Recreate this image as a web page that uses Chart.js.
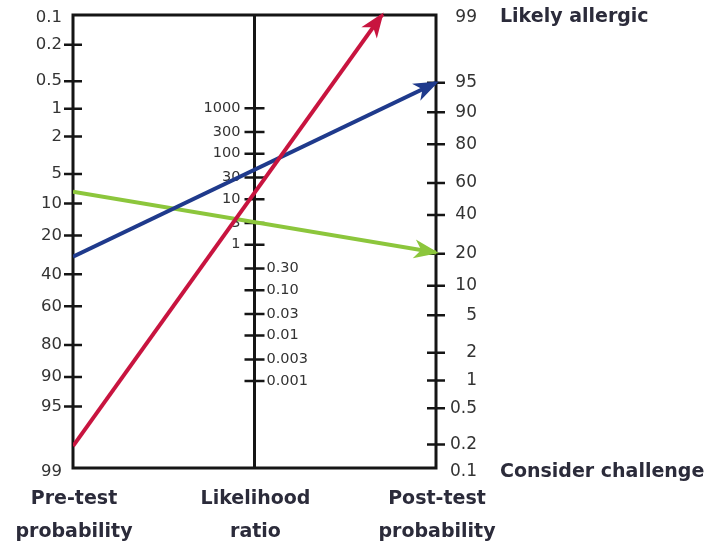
<!DOCTYPE html>
<html>
<head>
<meta charset="utf-8">
<script src="https://cdn.jsdelivr.net/npm/chart.js@4.4.1/dist/chart.umd.min.js"></script>
<style>
  body { margin: 0; background: #fff; }
  #wrap { width: 713px; height: 543px; }
</style>
</head>
<body>
<div id="wrap"><canvas id="nomogram"></canvas></div>
<script>
// printed ticks on the three axes
const preTicks = [0.2, 0.5, 1, 2, 5, 10, 20, 40, 60, 80, 90, 95];
const preEnds = [0.1, 99];
const postTicks = [95, 90, 80, 60, 40, 20, 10, 5, 2, 1, 0.5, 0.2];
const postEnds = [99, 0.1];
const lrHigh = [1000, 300, 100, 30, 10, 3, 1];
const lrLow = [0.3, 0.1, 0.03, 0.01, 0.003, 0.001];
const lrLowLabels = ['0.30', '0.10', '0.03', '0.01', '0.003', '0.001'];
const postNotes = ['Likely allergic', 'Consider challenge'];
const axisTitles = [['Pre-test', 'probability'], ['Likelihood', 'ratio'], ['Post-test', 'probability']];

// arrows: pre-test % they start from, post-test % they point at
const preTest = [98.1, 30, 7.6];
const postTest = [99.86, 95, 20.5];

// frame extent on the pre-test scale, offset of the post-test scale (log odds)
const preTop = 0.094, preBottom = 98.9;
const postShift = 2.31;

const logit = p => Math.log(p / (100 - p));
const preY = p => -logit(p);
const postY = p => logit(p) + postShift;
const lrY = r => 0.5 * Math.log(r) + postShift / 2;

const arrowColors = ['#c8143f', '#1f3a8c', '#8cc63c'];

const datasets = preTest.map((p, i) => ({
    data: [{x: 0, y: preY(p)}, {x: 1, y: postY(postTest[i])}],
    borderColor: arrowColors[i],
    borderWidth: 4,
    pointRadius: 0,
    clip: 0
}));

const nomogramAxes = {
    id: 'nomogramAxes',
    beforeDatasetsDraw(chart) {
        const {ctx, chartArea: a, scales: {x, y}} = chart;
        const xl = x.getPixelForValue(0), xm = x.getPixelForValue(0.5), xr = x.getPixelForValue(1);
        ctx.save();
        ctx.strokeStyle = '#151515';
        ctx.lineWidth = 3;
        ctx.strokeRect(a.left, a.top, a.right - a.left, a.bottom - a.top);
        ctx.beginPath();
        ctx.moveTo(xm, a.top);
        ctx.lineTo(xm, a.bottom);
        ctx.stroke();

        ctx.lineWidth = 2.5;
        ctx.beginPath();
        preTicks.forEach(v => { const py = y.getPixelForValue(preY(v)); ctx.moveTo(xl - 9, py); ctx.lineTo(xl + 9, py); });
        postTicks.forEach(v => { const py = y.getPixelForValue(postY(v)); ctx.moveTo(xr - 9, py); ctx.lineTo(xr + 9, py); });
        lrHigh.concat(lrLow).forEach(v => { const py = y.getPixelForValue(lrY(v)); ctx.moveTo(xm - 10, py); ctx.lineTo(xm + 10, py); });
        ctx.stroke();

        ctx.fillStyle = '#333';
        ctx.textBaseline = 'middle';
        ctx.textAlign = 'right';
        ctx.font = '16.5px "DejaVu Sans"';
        preTicks.concat(preEnds).forEach(v => ctx.fillText(String(v), xl - 11, y.getPixelForValue(preY(v))));
        ctx.font = '17px "DejaVu Sans"';
        postTicks.concat(postEnds).forEach(v => ctx.fillText(String(v), xr + 41, y.getPixelForValue(postY(v))));
        ctx.font = '14.5px "DejaVu Sans"';
        lrHigh.forEach(v => ctx.fillText(String(v), xm - 14, y.getPixelForValue(lrY(v))));
        ctx.textAlign = 'left';
        lrLow.forEach((v, i) => ctx.fillText(lrLowLabels[i], xm + 12, y.getPixelForValue(lrY(v))));

        ctx.fillStyle = '#2b2b3a';
        ctx.font = 'bold 19px "DejaVu Sans"';
        postEnds.forEach((v, i) => ctx.fillText(postNotes[i], xr + 64, y.getPixelForValue(postY(v))));
        ctx.textAlign = 'center';
        ctx.textBaseline = 'alphabetic';
        [xl, xm, xr].forEach((px, i) => {
            ctx.fillText(axisTitles[i][0], px + 1, a.bottom + 36);
            ctx.fillText(axisTitles[i][1], px + 1, a.bottom + 69);
        });
        ctx.restore();
    },
    afterDatasetsDraw(chart) {
        const {ctx, chartArea: a} = chart;
        chart.data.datasets.forEach((ds, i) => {
            const pts = chart.getDatasetMeta(i).data;
            const p0 = pts[0], p1 = pts[pts.length - 1];
            let tx = p1.x, ty = p1.y;
            if (ty < a.top) {
                const t = (a.top - p0.y) / (p1.y - p0.y);
                tx = p0.x + t * (p1.x - p0.x);
                ty = a.top;
            }
            const ang = Math.atan2(ty - p0.y, tx - p0.x);
            ctx.save();
            ctx.translate(tx, ty);
            ctx.rotate(ang);
            ctx.beginPath();
            ctx.moveTo(3, 0);
            ctx.lineTo(-22, -9.5);
            ctx.lineTo(-15, 0);
            ctx.lineTo(-22, 9.5);
            ctx.closePath();
            ctx.fillStyle = ds.borderColor;
            ctx.fill();
            ctx.restore();
        });
    }
};

new Chart(document.getElementById('nomogram'), {
    type: 'line',
    data: {datasets},
    options: {
        responsive: true,
        maintainAspectRatio: false,
        animation: false,
        layout: {padding: {left: 73, right: 277, top: 15, bottom: 75}},
        scales: {
            x: {type: 'linear', min: 0, max: 1, display: false},
            y: {type: 'linear', min: preY(preBottom), max: preY(preTop), display: false}
        },
        plugins: {legend: {display: false}, tooltip: {enabled: false}}
    },
    plugins: [nomogramAxes]
});
</script>
</body>
</html>
